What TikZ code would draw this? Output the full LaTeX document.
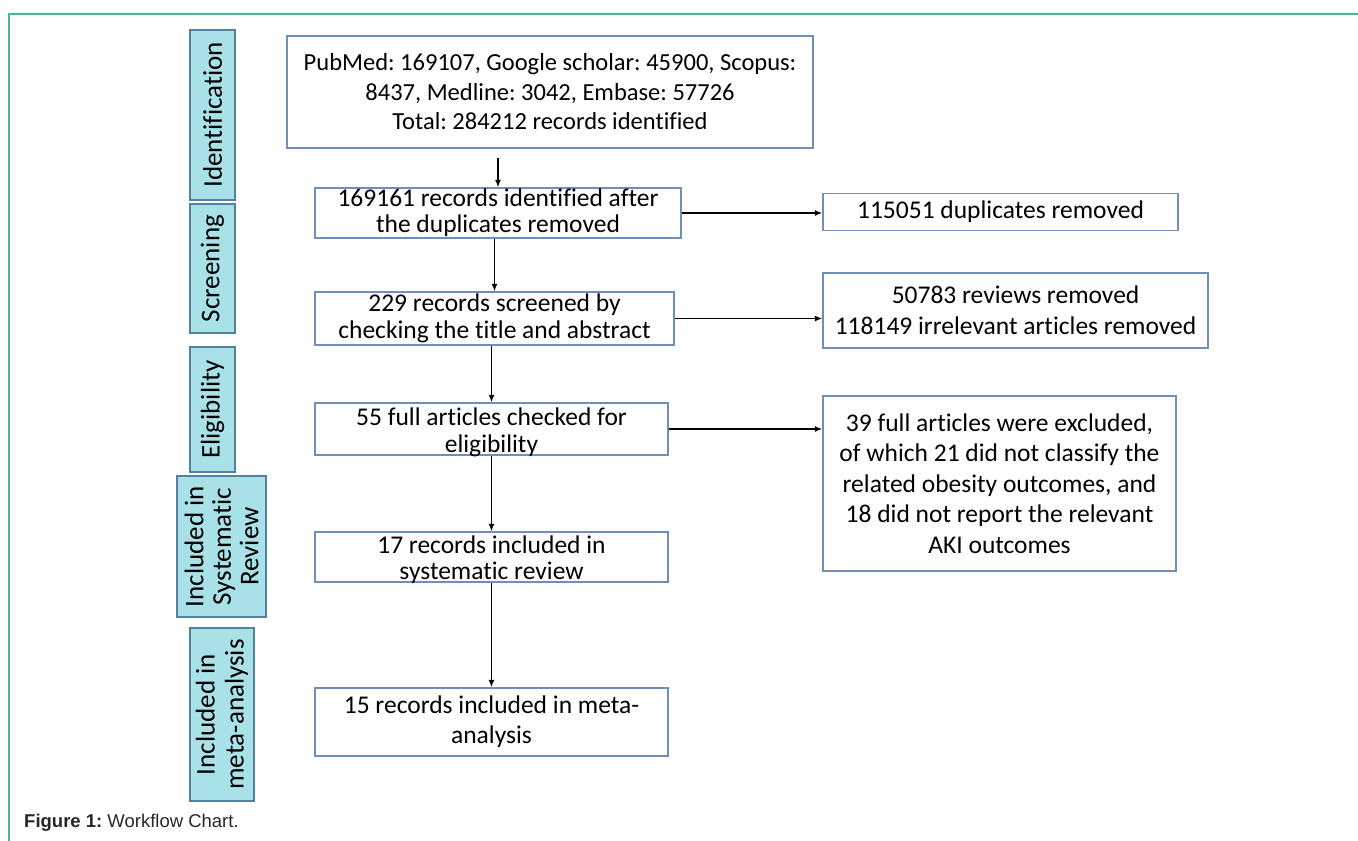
\documentclass[tikz,border=0pt]{standalone}
\usepackage{fontspec}
\setmainfont{Carlito}[Ligatures=NoCommon]
\newfontfamily\capfont{Liberation Sans}
\usetikzlibrary{positioning,calc,arrows.meta}
\definecolor{stagefill}{HTML}{A8E2E8}
\definecolor{stageline}{HTML}{55809F}
\definecolor{boxline}{HTML}{6F8FB8}
\definecolor{framegreen}{HTML}{45B59C}
\frenchspacing

\begin{document}
\begin{tikzpicture}[x=1pt,y=-1pt,
  stage/.style={draw=stageline, fill=stagefill, line width=1.2pt, rotate=90, align=center, inner sep=0pt, font=\fontsize{27}{28}\selectfont},
  box/.style={draw=boxline, line width=1.2pt, inner sep=0pt, align=center, font=\fontsize{25.5}{27}\selectfont},
  boxtext/.style={inner sep=0pt, align=center, font=\fontsize{25.5}{27}\selectfont},
  arr/.style={-{Latex[length=7.5pt,width=6pt]}, line width=1.5pt}]
\useasboundingbox (0,0) rectangle (1358,841);
% frame
\draw[framegreen, line width=1.8pt] (9,841) -- (9,14) -- (1358,14);

% stages
\node[stage, minimum width=170pt, minimum height=45pt] (ident) at (212.5,115) {Identification};
\node[stage, minimum width=129pt, minimum height=45pt] (screen) at (212.5,268.5) {Screening};
\node[stage, minimum width=125pt, minimum height=45pt] (elig) at (212.5,409.5) {Eligibility};
\node[stage, minimum width=141pt, minimum height=89pt, font=\fontsize{27}{27.5}\selectfont] (incsys) at (221.5,546.5) {Included in\\Systematic\\Review};
\node[stage, minimum width=173pt, minimum height=64pt, font=\fontsize{27}{29}\selectfont] (incmeta) at (222,714.5) {Included in\\meta-analysis};

% boxes
\node[box, minimum width=526pt, minimum height=112pt, font=\fontsize{24.5}{29.5}\selectfont] (src) at (550,92)
  {PubMed: 169107, Google scholar: 45900, Scopus:\\8437, Medline: 3042, Embase: 57726\\Total: 284212 records identified};
\node[box, minimum width=366pt, minimum height=50pt, font=\fontsize{25.5}{26}\selectfont] (dedup) at (498,213)
  {169161 records identified after\\the duplicates removed};
\node[box, minimum width=355pt, minimum height=37pt] (dupl) at (1000.5,212) {115051 duplicates removed};
\node[box, minimum width=359pt, minimum height=53pt] (screened) at (494.5,318.5)
  {229 records screened by\\checking the title and abstract};
\node[box, minimum width=385pt, minimum height=75pt, font=\fontsize{25.5}{31}\selectfont] (removed) at (1015.5,310.5)
  {50783 reviews removed\\118149 irrelevant articles removed};
\node[box, minimum width=353pt, minimum height=52pt] (fulltext) at (491.5,429) {};
\node[boxtext] (fulltext-txt) at (491.5,432) {55 full articles checked for\\eligibility};
\node[box, minimum width=353pt, minimum height=175pt, font=\fontsize{25.5}{30.5}\selectfont] (excluded) at (999.5,483.5)
  {39 full articles were excluded,\\of which 21 did not classify the\\related obesity outcomes, and\\18 did not report the relevant\\AKI outcomes};
\node[box, minimum width=353pt, minimum height=50pt] (sysrev) at (491.5,557) {};
\node[boxtext, font=\fontsize{25.5}{26}\selectfont] (sysrev-txt) at (491.5,560) {17 records included in\\systematic review};
\node[box, minimum width=353pt, minimum height=68pt, font=\fontsize{25.5}{30}\selectfont] (meta) at (491.5,722)
  {15 records included in meta-\\analysis};

% arrows
\draw[arr] ($(src.south -| dedup.north)+(0,9)$) -- (dedup.north);
\draw[arr] (dedup.east) -- (dedup.east -| dupl.west);
\draw[arr] (dedup.south -| screened.north) -- (screened.north);
\draw[arr] (screened.east) -- (screened.east -| removed.west);
\draw[arr] (screened.south -| fulltext.north) -- (fulltext.north);
\draw[arr] (fulltext.east) -- (fulltext.east -| excluded.west);
\draw[arr] (fulltext.south) -- (sysrev.north);
\draw[arr] (sysrev.south) -- (meta.north);

% caption
\node[anchor=west, inner sep=0pt, font=\capfont\fontsize{18.5}{21}\selectfont, text=black!85] (caption) at (24,823)
  {\textbf{Figure 1:} Workflow Chart.};
\end{tikzpicture}
\end{document}
